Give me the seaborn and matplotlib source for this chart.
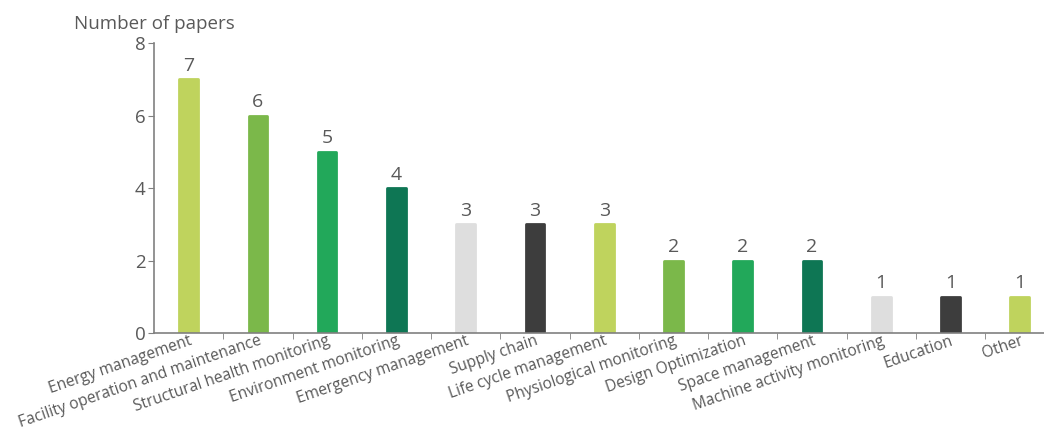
import matplotlib.pyplot as plt
import seaborn as sns
import pandas as pd
import numpy as np

categories = ['Energy management', 'Facility operation and maintenance',
              'Structural health monitoring', 'Environment monitoring',
              'Emergency management', 'Supply chain', 'Life cycle management',
              'Physiological monitoring', 'Design Optimization', 'Space management',
              'Machine activity monitoring', 'Education', 'Other']
papers = [7, 6, 5, 4, 3, 3, 3, 2, 2, 2, 1, 1, 1]
palette = ['#bfd35d', '#7bb84a', '#22a85a', '#0e7654', '#dedede', '#3d3d3d']

sns.set_style('white')
plt.rcParams['font.family'] = ['Open Sans', 'DejaVu Sans']
text_color = '#595959'

df = pd.DataFrame({'category': categories, 'papers': papers})
bar_colors = [palette[i % len(palette)] for i in range(len(categories))]

fig = plt.figure(figsize=(10.44, 4.32), dpi=100)
ax = fig.add_axes([0.1475, 0.229, 0.8525, 0.6715])
sns.barplot(data=df, x='category', y='papers', hue='category', palette=bar_colors,
            legend=False, width=0.27, saturation=1, ax=ax)

# slightly rounded corners
for p, c in zip(ax.patches, bar_colors):
    p.set_edgecolor(c)
    p.set_linewidth(2)
    p.set_joinstyle('round')

for i, v in enumerate(papers):
    ax.text(i, v + 0.12, str(v), ha='center', va='bottom', fontsize=14, color=text_color)

ax.set_ylim(0, 8)
ax.set_xlim(-0.5, 12.35)
ax.set_yticks([0, 2, 4, 6, 8])
ax.set_xticks(range(len(categories)))
ax.set_xticklabels(categories, rotation=19, ha='right', rotation_mode='anchor',
                   fontsize=11.2, color=text_color)
ax.set_xticks(np.arange(0.5, len(categories) - 0.5, 1), minor=True)
ax.tick_params(axis='x', which='major', length=0, pad=0)
ax.tick_params(axis='x', which='minor', length=4, color='#808080', direction='out', bottom=True)
ax.tick_params(axis='y', length=4, color='#808080', direction='out', left=True,
               labelsize=13.5, labelcolor=text_color, pad=2)
ax.set_xlabel('')
ax.set_ylabel('')
ax.text(0.0, 1.035, 'Number of papers', transform=ax.transAxes, ha='center', va='bottom',
        fontsize=13.5, color=text_color)

sns.despine(ax=ax)
for s in ['left', 'bottom']:
    ax.spines[s].set_color('#808080')
    ax.spines[s].set_linewidth(1.2)

fig.savefig('out.png', dpi=100)
